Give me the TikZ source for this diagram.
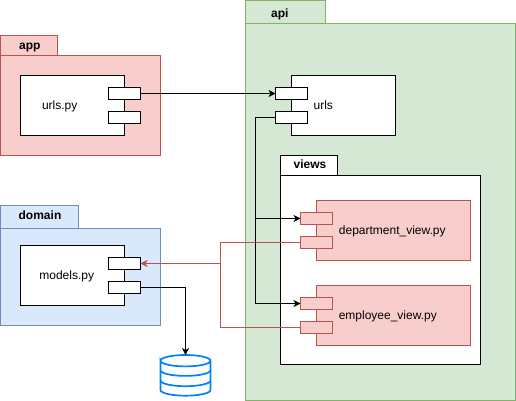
\documentclass[tikz,border=0pt]{standalone}
\usepackage{fontspec}
\setmainfont{Liberation Sans}
\usetikzlibrary{arrows.meta}
\definecolor{redfill}{HTML}{F8CECC}
\definecolor{redline}{HTML}{B85450}
\definecolor{greenfill}{HTML}{D5E8D4}
\definecolor{greenline}{HTML}{82B366}
\definecolor{bluefill}{HTML}{DAE8FC}
\definecolor{blueline}{HTML}{6C8EBF}
\definecolor{dbline}{HTML}{007FFF}

\begin{document}
\begin{tikzpicture}[x=1pt,y=-1pt,line width=1pt,
    box/.style={rectangle,draw,inner sep=0pt,outer sep=0pt},
    component/.style={box,minimum width=104pt,minimum height=60pt},
    port/.style={box,minimum width=32pt,minimum height=12pt},
    label/.style={inner sep=0pt,font=\fontsize{12}{14}\selectfont,text height=9pt,text depth=2.5pt},
    tablabel/.style={label,font=\fontsize{12}{14}\selectfont\bfseries},
    apppkg/.style={box,draw=redline,fill=redfill},
    domainpkg/.style={box,draw=blueline,fill=bluefill},
    apipkg/.style={box,draw=greenline,fill=greenfill},
    viewpart/.style={draw=redline,fill=redfill},
    wire/.style={draw=black,-{Stealth[length=7pt,width=7pt,inset=2pt]}},
    depwire/.style={draw=redline,-{Stealth[length=7pt,width=7pt,inset=2pt]}},
    depline/.style={draw=redline},
    dbstroke/.style={draw=dbline,line width=1.7pt}]
\useasboundingbox (0,0) rectangle (516,401);

% packages
\node[apppkg,minimum width=57pt,minimum height=20pt] (apptab) at (29,45.5) {};
\node[apppkg,minimum width=160pt,minimum height=100pt] (app) at (80.5,105.5) {};
\node[domainpkg,minimum width=78pt,minimum height=23pt] (domaintab) at (39.5,217) {};
\node[domainpkg,minimum width=160pt,minimum height=97pt] (domain) at (80.5,277) {};
\node[apipkg,minimum width=80pt,minimum height=23pt] (apitab) at (285.5,12) {};
\node[apipkg,minimum width=270pt,minimum height=377pt] (api) at (380.5,212) {};
\node[box,fill=white,minimum width=57pt,minimum height=20pt] (viewstab) at (309,165.5) {};
\node[box,fill=white,minimum width=200pt,minimum height=189pt] (views) at (380.5,270) {};

\node[tablabel] (applabel) at (29.8,46) {app};
\node[tablabel] (domainlabel) at (40,216) {domain};
\node[tablabel] (apilabel) at (279.8,14) {api};
\node[tablabel] (viewslabel) at (310,165) {views};

% components
\node[component,fill=white] (urlspy) at (72.5,105.5) {};
\node[port,fill=white] (urlspya) at (124.5,93.5) {};
\node[port,fill=white] (urlspyb) at (124.5,117.5) {};
\node[label] (urlspylabel) at (59.7,106) {urls.py};

\node[component,fill=white] (models) at (72.5,275.5) {};
\node[port,fill=white] (modelsa) at (124.5,263.5) {};
\node[port,fill=white] (modelsb) at (124.5,287.5) {};
\node[label] (modelslabel) at (66.7,276) {models.py};

\node[component,fill=white] (urls) at (343.5,105.5) {};
\node[port,fill=white] (urlsa) at (291.5,93.5) {};
\node[port,fill=white] (urlsb) at (291.5,117.5) {};
\node[label] (urlslabel) at (323.3,106) {urls};

\node[component,viewpart,minimum width=154pt] (dept) at (393.5,230.5) {};
\node[port,viewpart] (depta) at (316.5,218.5) {};
\node[port,viewpart] (deptb) at (316.5,242.5) {};
\node[label] (deptlabel) at (392.3,231) {department\_view.py};

\node[component,viewpart,minimum width=154pt] (emp) at (393.5,315.5) {};
\node[port,viewpart] (empa) at (316.5,303.5) {};
\node[port,viewpart] (empb) at (316.5,327.5) {};
\node[label] (emplabel) at (387.8,316) {employee\_view.py};

% database
\node[minimum width=50pt,minimum height=41pt,inner sep=0pt,outer sep=0pt] (db) at (185.5,375.5) {};
\draw[dbstroke,fill=white] (160.5,360.7) arc[start angle=180,end angle=360,x radius=25,y radius=5.7]
    arc[start angle=0,end angle=180,x radius=25,y radius=5.7] -- (160.5,390)
    arc[start angle=180,end angle=0,x radius=25,y radius=5.7] -- (210.5,360.7);
\draw[dbstroke] (160.5,370.2) arc[start angle=180,end angle=0,x radius=25,y radius=5.7];
\draw[dbstroke] (160.5,380.5) arc[start angle=180,end angle=0,x radius=25,y radius=5.7];

% connectors
\coordinate (bend) at (220.5,263.5);
\draw[depline] (deptb.west) -| (bend);
\draw[depline] (empb.west) -| (bend);
\draw[depwire] (bend) -- (modelsa.east);
\draw[wire] (urlspya.east) -- (urlsa.west);
\draw[wire] (urlsb.west) -- ++(-20,0) |- (depta.west);
\draw[wire] (urlsb.west) -- ++(-20,0) |- (empa.west);
\draw[wire] (modelsb.east) -| (db.north);
\end{tikzpicture}
\end{document}
